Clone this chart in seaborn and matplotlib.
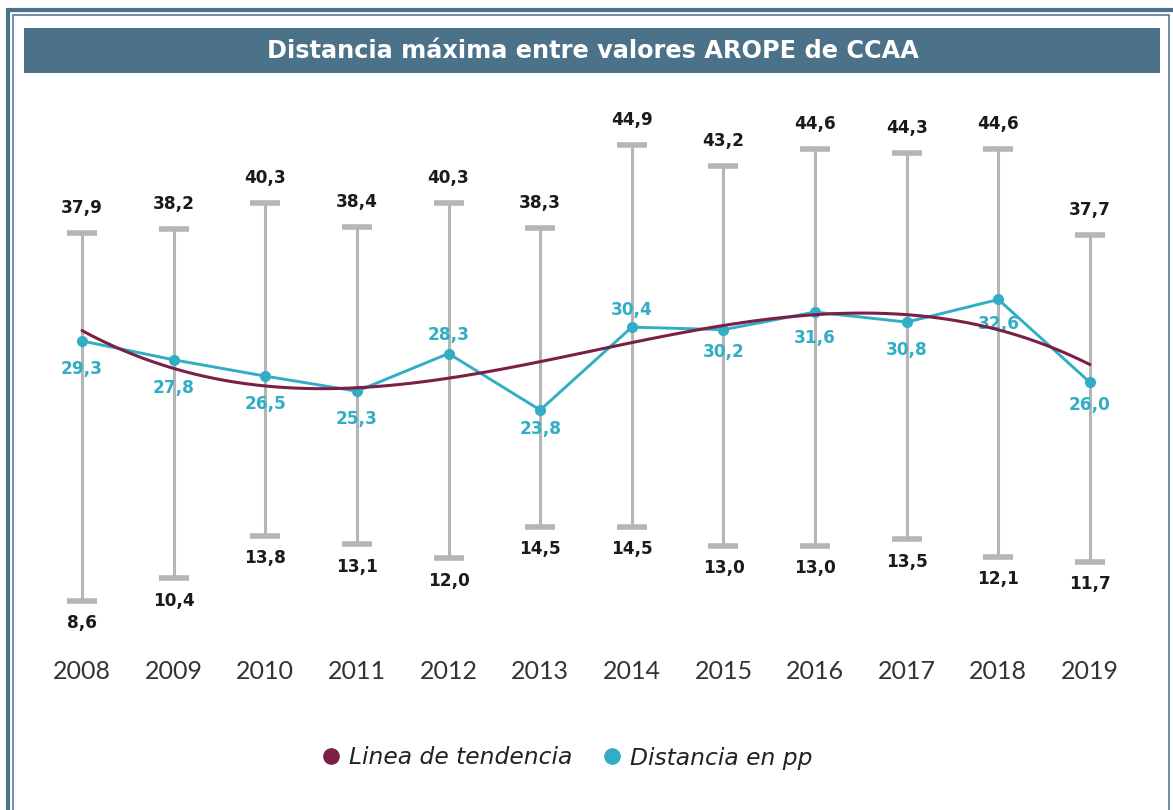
import numpy as np
import pandas as pd
import seaborn as sns
import matplotlib.pyplot as plt
from matplotlib.patches import Rectangle
from matplotlib.lines import Line2D

# Datos
anios = ["2008", "2009", "2010", "2011", "2012", "2013",
         "2014", "2015", "2016", "2017", "2018", "2019"]
valor_max = [37.9, 38.2, 40.3, 38.4, 40.3, 38.3, 44.9, 43.2, 44.6, 44.3, 44.6, 37.7]
valor_min = [8.6, 10.4, 13.8, 13.1, 12.0, 14.5, 14.5, 13.0, 13.0, 13.5, 12.1, 11.7]
distancia = [29.3, 27.8, 26.5, 25.3, 28.3, 23.8, 30.4, 30.2, 31.6, 30.8, 32.6, 26.0]

titulo = "Distancia máxima entre valores AROPE de CCAA"
leyenda = ["Linea de tendencia", "Distancia en pp"]

AZUL = "#31adc5"
GRANATE = "#7b1f45"
GRIS = "#b4b6b6"
MARCO = "#4b7288"

df = pd.DataFrame({"anio": anios, "max": valor_max, "min": valor_min, "dist": distancia})
df["pos"] = np.arange(len(df))


def fmt(v):
    return f"{v:.1f}".replace(".", ",")


sns.set_theme(style="white")
plt.rcParams["font.family"] = ["DejaVu Sans"]

W, H = 1173, 810
fig = plt.figure(figsize=(W / 100, H / 100), dpi=100)

# Marco exterior e interior
fig.add_artist(Rectangle((8 / W, -0.1), 1.2, 1.1 - 10 / H, transform=fig.transFigure,
                         fill=False, edgecolor=MARCO, lw=3))
fig.add_artist(Rectangle((12.5 / W, -0.1), (1168.5 - 12.5) / W, 1.1 - 15 / H,
                         transform=fig.transFigure, fill=False, edgecolor=MARCO, lw=1.1))
# Banda del titulo
fig.add_artist(Rectangle((24 / W, 1 - 73 / H), (1160 - 24) / W, 45 / H,
                         transform=fig.transFigure, facecolor=MARCO, edgecolor="none"))
fig.text(593 / W, 1 - 51 / H, titulo, ha="center", va="center", color="white",
         fontsize=17.3, fontweight="bold")

ax = fig.add_axes([22 / W, 1 - 650 / H, 1128 / W, 550 / H])
ax.patch.set_alpha(0)

# Rango max-min por anio
ax.vlines(df["pos"], df["min"], df["max"], color=GRIS, lw=2.2, zorder=1)
ax.plot(df["pos"], df["max"], ls="none", marker="_", ms=22, mew=4, color=GRIS, zorder=1)
ax.plot(df["pos"], df["min"], ls="none", marker="_", ms=22, mew=4, color=GRIS, zorder=1)

for _, r in df.iterrows():
    ax.annotate(fmt(r["max"]), (r["pos"], r["max"]), xytext=(0, 18), textcoords="offset points",
                ha="center", va="center", fontsize=12.2, fontweight="bold", color="#1a1a1a")
    ax.annotate(fmt(r["min"]), (r["pos"], r["min"]), xytext=(0, -16), textcoords="offset points",
                ha="center", va="center", fontsize=12.2, fontweight="bold", color="#1a1a1a")

# Distancia en pp
sns.lineplot(data=df, x="pos", y="dist", ax=ax, color=AZUL, lw=2.1, marker="o",
             markersize=8, markeredgewidth=0, zorder=3)
desplaz = [-20, -20, -20, -20, 13, -14, 12, -16, -19, -20, -18, -16]
for (_, r), dy in zip(df.iterrows(), desplaz):
    ax.annotate(fmt(r["dist"]), (r["pos"], r["dist"]), xytext=(0, dy), textcoords="offset points",
                ha="center", va="center", fontsize=12.2, fontweight="bold", color=AZUL, zorder=4)

# Linea de tendencia (polinomica)
sns.regplot(data=df, x="pos", y="dist", order=3, ci=None, scatter=False, ax=ax,
            line_kws=dict(color=GRANATE, lw=2.2, zorder=5))

ax.set_xlim(-0.655, 11.655)
ax.set_ylim(4.70, 48.48)
ax.set_xticks(df["pos"], anios)
ax.set_yticks([])
ax.set_xlabel("")
ax.set_ylabel("")
ax.tick_params(axis="x", length=0, labelsize=18, labelcolor="#333333", pad=7)
for t in ax.get_xticklabels():
    t.set_fontfamily("Lato")
sns.despine(ax=ax, left=True, bottom=True)

handles = [Line2D([], [], ls="none", marker="o", ms=11, color=GRANATE),
           Line2D([], [], ls="none", marker="o", ms=11, color=AZUL)]
fig.legend(handles, leyenda, loc="center", bbox_to_anchor=(566 / W, 1 - 758 / H), ncol=2,
           frameon=False, prop=dict(style="italic", size=16.8),
           handletextpad=0.28, columnspacing=1.17, handlelength=1.0, labelcolor="#222222")

fig.savefig("out.png", dpi=100)
